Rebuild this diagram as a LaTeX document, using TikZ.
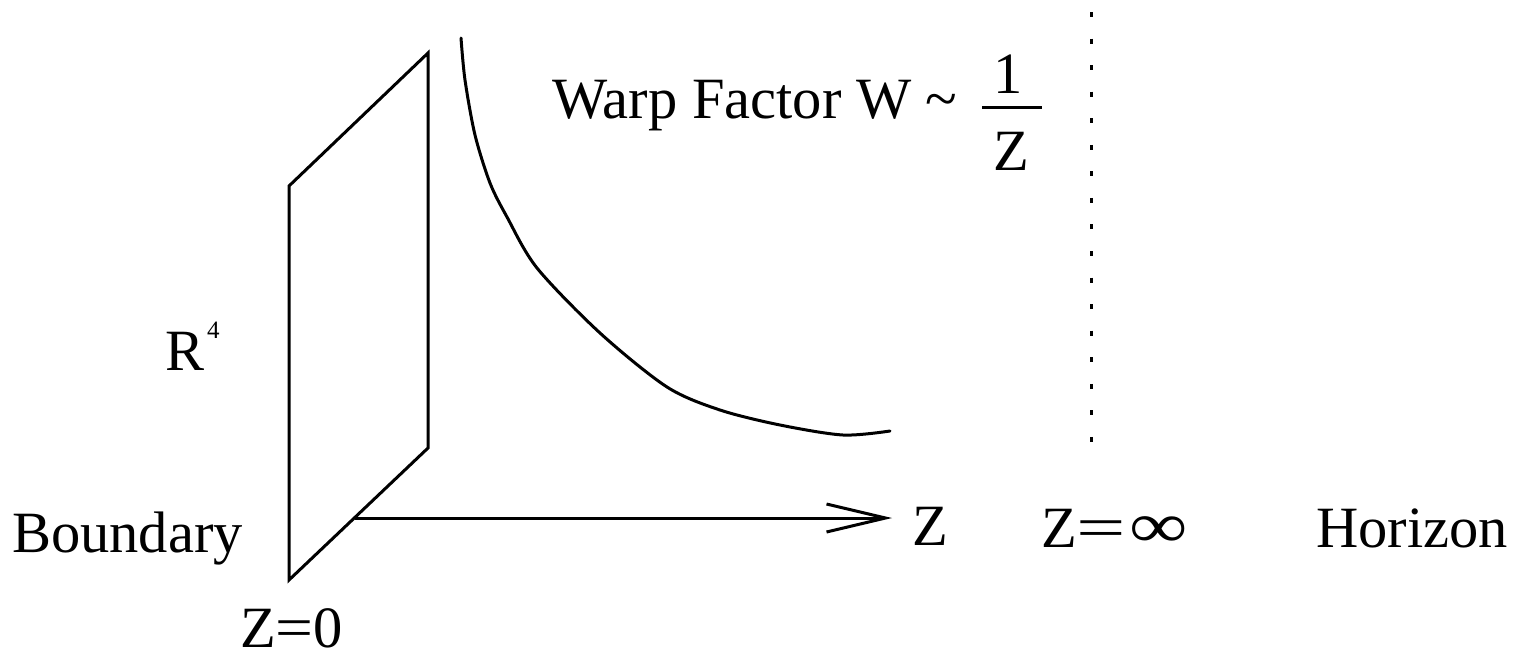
\documentclass[tikz,border=0pt]{standalone}
\usepackage{fontspec}
\setmainfont{Liberation Serif}
\usetikzlibrary{arrows.meta}
\tikzset{
  lbl/.style={inner sep=0pt, anchor=base west, font=\fontsize{58.5}{60}\selectfont},
  thick3/.style={line width=3pt, line join=miter},
  dotline/.style={line width=3pt, dash pattern=on 5pt off 21.56pt}
}
\begin{document}
\begin{tikzpicture}[x=1pt,y=-1pt]
\useasboundingbox (0,0) rectangle (1517,657);
% boundary plane
\coordinate (p1) at (289,186);
\coordinate (p2) at (428,53);
\coordinate (p3) at (428,448);
\coordinate (p4) at (289,580);
\draw[thick3] (p1) -- (p2) -- (p3) -- (p4) -- cycle;
% axis arrow
\coordinate (astart) at (355,518);
\coordinate (atip) at (892,518);
\draw[thick3, -{Straight Barb[length=59pt,width=28pt,line width=3pt]}] (astart) -- (atip);
% warp curve
\draw[thick3, line cap=round] plot[smooth] coordinates {(461,38) (465,80) (475,135) (490,183) (507,217) (537,268) (600,333) (667,387) (720,410) (780,425) (843,435) (890,431)};
% horizon dotted line
\coordinate (dtop) at (1091,12);
\coordinate (dbot) at (1091,443);
\draw[dotline] (dtop) -- (dbot);
% labels
\node[lbl] (boundary) at (12,552) {Boundary};
\node[lbl] (z0) at (240,647) {Z\scalebox{1.15}[1]{=}0};
\node[lbl] (r4) at (165,370) {R\hspace{3pt}\raisebox{32pt}{\fontsize{25}{25}\selectfont 4}};
\node[lbl] (zlab) at (912,545) {Z};
\node[lbl] (zinf) at (1041,547) {Z\scalebox{1.5}[1]{=}\hspace{3pt}\scalebox{1.4}[1.1]{∞}};
\node[lbl] (horizon) at (1316,547) {Horizon};
\node[lbl] (warp) at (552,118) {Warp Factor W \textasciitilde};
\node[lbl, anchor=base] (one) at (1008,93) {1};
\node[lbl, anchor=base] (zden) at (1011,170) {Z};
\coordinate (barl) at (982,107);
\coordinate (barr) at (1042,107);
\draw[line width=3pt] (barl) -- (barr);
\end{tikzpicture}
\end{document}
